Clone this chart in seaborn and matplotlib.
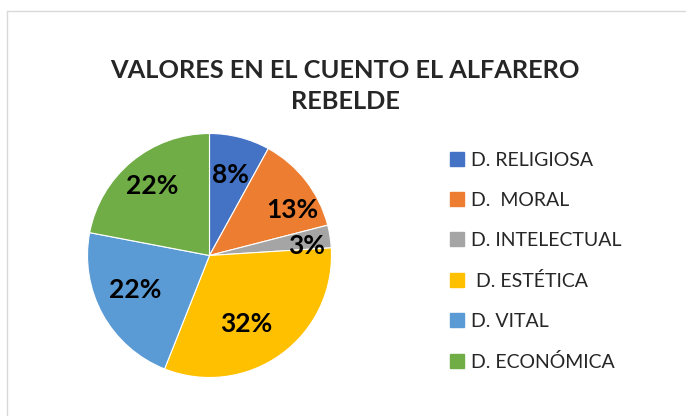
import matplotlib
matplotlib.use("Agg")
import numpy as np
import matplotlib.pyplot as plt
from matplotlib.lines import Line2D
import seaborn as sns

# data
categorias = ["D. RELIGIOSA", "D.  MORAL", "D. INTELECTUAL", " D. ESTÉTICA", "D. VITAL", "D. ECONÓMICA"]
porcentajes = [8, 13, 3, 32, 22, 22]
titulo = "VALORES EN EL CUENTO EL ALFARERO\nREBELDE"

sns.set_theme(style="white")
plt.rcParams['font.family'] = ['Lato', 'DejaVu Sans']
colores = sns.color_palette(["#4472C4", "#ED7D31", "#A5A5A5", "#FFC000", "#5B9BD5", "#70AD47"])

W, H = 686, 416
fig = plt.figure(figsize=(W / 100, H / 100), dpi=100)

# light chart border (top and left visible)
fig.add_artist(Line2D([7 / W, 7 / W], [0, 1 - 11 / H], color="#D9D9D9", lw=1))
fig.add_artist(Line2D([7 / W, 1], [1 - 11 / H, 1 - 11 / H], color="#D9D9D9", lw=1))

cx, cy, r = 209.5, 416 - 255.5, 122
ax = fig.add_axes([(cx - r) / W, (cy - r) / H, 2 * r / W, 2 * r / H])
wedges, _, autotexts = ax.pie(
    porcentajes, colors=colores, startangle=90, counterclock=False,
    autopct=lambda p: f"{p:.0f}%", pctdistance=0.72,
    wedgeprops=dict(edgecolor="white", linewidth=0.8),
    textprops=dict(fontsize=19, fontweight="bold", color="black"),
)
# best-fit style label placement: radial distance and angular nudge per slice
dist_etiqueta = [0.685, 0.77, 0.80, 0.64, 0.67, 0.74]
giro_etiqueta = [0, -9, -3.5, -8, -4, 0]
for w, t, d, g in zip(wedges, autotexts, dist_etiqueta, giro_etiqueta):
    ang = np.deg2rad((w.theta1 + w.theta2) / 2 + g)
    t.set_position((d * np.cos(ang), d * np.sin(ang)))
ax.set_xlim(-1, 1)
ax.set_ylim(-1, 1)
ax.set_aspect("equal")
ax.axis("off")

fig.text(345 / W, 1 - 86 / H, titulo, ha="center", va="center",
         fontsize=18.3, fontweight="bold", linespacing=1.45)

handles = [Line2D([], [], marker="s", linestyle="none", markersize=10,
                  markerfacecolor=c, markeredgecolor=c) for c in colores]
fig.legend(handles, categorias, loc="upper left", bbox_to_anchor=(440 / W, 1 - 144 / H),
           frameon=False, fontsize=14, labelspacing=1.18, handletextpad=0.3,
           handlelength=0.9, borderaxespad=0)

fig.savefig("out.png", dpi=100)
